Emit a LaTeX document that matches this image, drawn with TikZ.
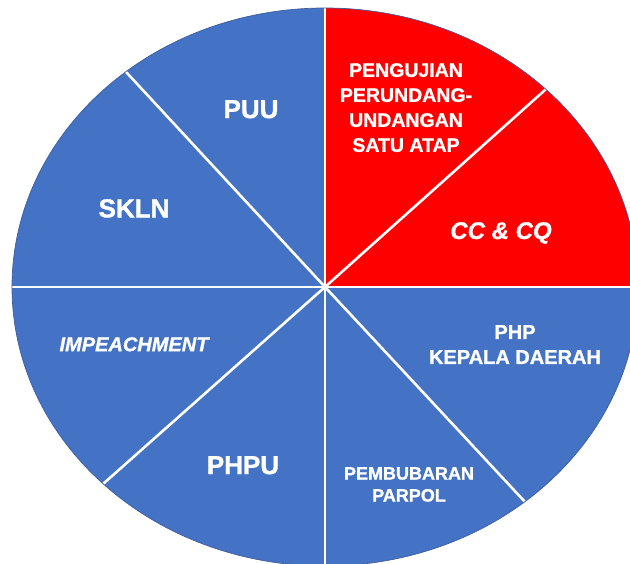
\documentclass[tikz,border=0pt]{standalone}
\usepackage{fontspec}
\setmainfont{Liberation Sans}[BoldFeatures={FakeBold=1.2}, BoldItalicFeatures={FakeBold=1.2}]
\usetikzlibrary{calc}
\definecolor{pieblue}{HTML}{4472C4}
\definecolor{piered}{HTML}{FF0000}
\definecolor{pieedge}{HTML}{3F5E9E}
\tikzset{
  lbl/.style={text=white, font=\bfseries, inner sep=0pt, anchor=north, align=center},
  sep/.style={draw=white, line width=2.6pt}
}
\begin{document}
\begin{tikzpicture}[x=1pt,y=-1pt]
\useasboundingbox (0,0) rectangle (630,564);
\clip (0,0) rectangle (630,564);
\coordinate (c) at (325,287);
\fill[pieblue] (c) ellipse [x radius=313, y radius=279];
\begin{scope}
  \clip (c) ellipse [x radius=313, y radius=279];
  \fill[piered] (c) rectangle (700,-20);
  \coordinate (top) at (325,-20);
  \coordinate (bot) at (325,600);
  \coordinate (lft) at (-20,287);
  \coordinate (rgt) at (700,287);
  \coordinate (ne) at ($(c)!1.3!(545,90)$);
  \coordinate (nw) at ($(c)!1.3!(127,73)$);
  \coordinate (sw) at ($(c)!1.3!(103,484)$);
  \coordinate (se) at ($(c)!1.3!(526,503)$);
  \draw[sep] (top) -- (bot);
  \draw[sep] (lft) -- (rgt);
  \draw[sep] (c) -- (ne);
  \draw[sep] (c) -- (nw);
  \draw[sep] (c) -- (sw);
  \draw[sep] (c) -- (se);
\end{scope}
\draw[pieedge, line width=0.7pt] (c) ellipse [x radius=313, y radius=279];
\node[lbl, font=\bfseries\fontsize{19.5}{25}\selectfont] (puj) at (406,63) {PENGUJIAN\\PERUNDANG-\\UNDANGAN\\SATU ATAP};
\node[lbl, font=\bfseries\fontsize{26}{30}\selectfont] (puu) at (251,100) {PUU};
\node[lbl, font=\bfseries\fontsize{26}{30}\selectfont] (skln) at (134,199) {SKLN};
\node[lbl, font=\bfseries\itshape\fontsize{20}{24}\selectfont] (imp) at (134,337) {IMPEACHMENT};
\node[lbl, font=\bfseries\itshape\fontsize{24}{28}\selectfont] (cc) at (501,222) {CC \& CQ};
\node[lbl, font=\bfseries\fontsize{20}{25}\selectfont] (php) at (515,325) {PHP\\KEPALA DAERAH};
\node[lbl, font=\bfseries\fontsize{26}{30}\selectfont] (phpu) at (243,456) {PHPU};
\node[lbl, font=\bfseries\fontsize{18}{22}\selectfont] (pemb) at (409,467) {PEMBUBARAN\\PARPOL};
\end{tikzpicture}
\end{document}
